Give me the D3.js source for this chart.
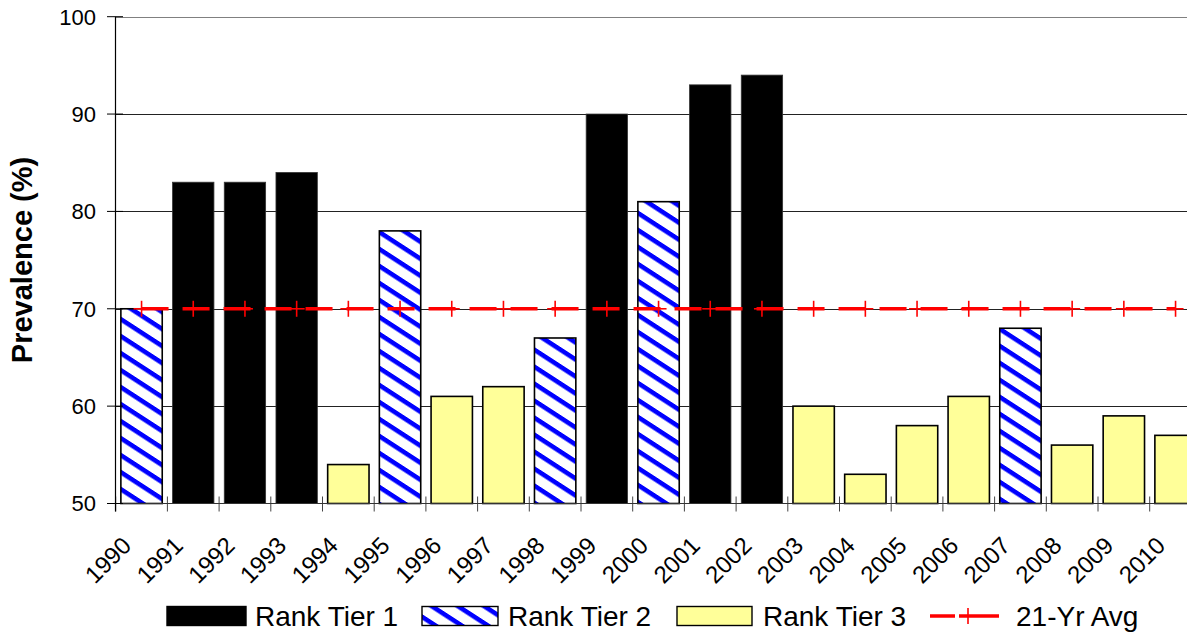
<!DOCTYPE html>
<html>
<head>
<meta charset="utf-8">
<script src="https://cdn.jsdelivr.net/npm/d3@7"></script>
<style>
  html, body { margin: 0; padding: 0; background: #fff; }
  svg { display: block; font-family: "Liberation Sans", Arial, sans-serif; }
</style>
</head>
<body>
<svg id="chart" width="1187" height="633"></svg>
<script>
// ---- data ----
const years = ["1990","1991","1992","1993","1994","1995","1996","1997","1998","1999","2000",
               "2001","2002","2003","2004","2005","2006","2007","2008","2009","2010"];
const prevalence = [70, 83, 83, 84, 54, 78, 61, 62, 67, 90, 81, 93, 94, 60, 53, 58, 61, 68, 56, 59, 57];
const rankTier = [2, 1, 1, 1, 3, 2, 3, 3, 2, 1, 2, 1, 1, 3, 3, 3, 3, 2, 3, 3, 3];
const avg21 = [70, 70, 70, 70, 70, 70, 70, 70, 70, 70, 70, 70, 70, 70, 70, 70, 70, 70, 70, 70, 70];
const yTicks = [50, 60, 70, 80, 90, 100];
const legendLabels = ["Rank Tier 1", "Rank Tier 2", "Rank Tier 3", "21-Yr Avg"];
const yTitle = "Prevalence (%)";

// ---- setup ----
const svg = d3.select("#chart");
const defs = svg.append("defs");
const pat = defs.append("pattern")
  .attr("id", "tier2")
  .attr("patternUnits", "userSpaceOnUse")
  .attr("width", 10).attr("height", 17)
  .attr("patternTransform", "skewY(33)");
pat.append("rect").attr("width", 10).attr("height", 17).attr("fill", "#fff");
pat.append("rect").attr("y", 0).attr("width", 10).attr("height", 5.5).attr("fill", "#0000ff");

const x = d3.scaleBand().domain(years).range([115.7, 1201.4]).paddingInner(0.2).paddingOuter(0.1);
const y = d3.scaleLinear().domain([50, 100]).range([503.5, 16.7]);
const step = x.step();
const boundary = d => x(d) - step * x.paddingOuter();
const center = d => x(d) + x.bandwidth() / 2;

const fills = {1: "#000000", 2: "url(#tier2)", 3: "#ffff99"};

// gridlines
svg.append("g").selectAll("line").data(yTicks.filter(t => t > 50)).join("line")
  .attr("x1", 115.5).attr("x2", 1187)
  .attr("y1", d => Math.round(y(d)) + 0.5).attr("y2", d => Math.round(y(d)) + 0.5)
  .attr("stroke", d => d === 100 ? "#808080" : "#222").attr("stroke-width", 1);

// x tick marks (cross)
svg.append("g").selectAll("line").data(years).join("line")
  .attr("x1", d => boundary(d)).attr("x2", d => boundary(d))
  .attr("y1", y(50) - 7).attr("y2", y(50) + 8)
  .attr("stroke", "#444").attr("stroke-width", 1);

// bars
svg.append("g").selectAll("rect").data(years).join("rect")
  .attr("x", d => x(d))
  .attr("width", x.bandwidth())
  .attr("y", (d, i) => y(prevalence[i]))
  .attr("height", (d, i) => y(50) - y(prevalence[i]))
  .attr("fill", (d, i) => fills[rankTier[i]])
  .attr("stroke", (d, i) => rankTier[i] === 1 ? "#333" : "#000")
  .attr("stroke-width", (d, i) => rankTier[i] === 1 ? 0.8 : 1.6);

// axes lines
svg.append("line").attr("x1", 107).attr("x2", 1187).attr("y1", y(50)).attr("y2", y(50))
  .attr("stroke", "#333").attr("stroke-width", 1.2);
svg.append("line").attr("x1", 115.5).attr("x2", 115.5).attr("y1", y(100)).attr("y2", y(50) + 8)
  .attr("stroke", "#000").attr("stroke-width", 1.2);

// y ticks & labels
const yg = svg.append("g");
yg.selectAll("line").data(yTicks).join("line")
  .attr("x1", 107).attr("x2", 123)
  .attr("y1", d => y(d)).attr("y2", d => y(d))
  .attr("stroke", "#000").attr("stroke-width", 1);
yg.selectAll("text").data(yTicks).join("text")
  .attr("x", 96).attr("y", d => y(d))
  .attr("dy", "0.36em")
  .attr("text-anchor", "end")
  .attr("font-size", 22)
  .attr("fill", "#000")
  .text(d => d);

// x labels
svg.append("g").selectAll("text").data(years).join("text")
  .attr("text-anchor", "end")
  .attr("font-size", 24)
  .attr("fill", "#000")
  .attr("transform", d => `translate(${boundary(d) + 17},${547}) rotate(-45)`)
  .text(d => d);

// average line
const line = d3.line().x((d, i) => center(years[i])).y(d => y(d));
svg.append("path").datum(avg21)
  .attr("d", line)
  .attr("fill", "none")
  .attr("stroke", "#ff0000")
  .attr("stroke-width", 3.4)
  .attr("stroke-dasharray", "27,14");
const mk = svg.append("g").selectAll("g").data(avg21).join("g")
  .attr("transform", (d, i) => `translate(${center(years[i])},${y(d)})`);
mk.append("line").attr("x1", -8).attr("x2", 8).attr("stroke", "#ff0000").attr("stroke-width", 1.6);
mk.append("line").attr("y1", -8).attr("y2", 8).attr("stroke", "#ff0000").attr("stroke-width", 1.6);

// y title
svg.append("text")
  .attr("transform", "translate(32,260) rotate(-90)")
  .attr("text-anchor", "middle")
  .attr("font-size", 29)
  .attr("font-weight", "bold")
  .attr("fill", "#000")
  .text(yTitle);

// legend
const leg = svg.append("g");
const ly = 616;
const swatches = [
  {x0: 167, x1: 246, tx: 255, fill: "#000", stroke: "#000"},
  {x0: 422, x1: 498, tx: 508, fill: "url(#tier2)", stroke: "#000"},
  {x0: 677, x1: 752, tx: 763, fill: "#ffff99", stroke: "#000"}
];
swatches.forEach((s, i) => {
  leg.append("rect").attr("x", s.x0).attr("y", ly - 9.5).attr("width", s.x1 - s.x0).attr("height", 19)
    .attr("fill", s.fill).attr("stroke", s.stroke).attr("stroke-width", 1.4);
  leg.append("text").attr("x", s.tx).attr("y", ly + 10).attr("font-size", 28).attr("fill", "#000")
    .text(legendLabels[i]);
});
leg.append("line").attr("x1", 930).attr("x2", 999).attr("y1", ly).attr("y2", ly)
  .attr("stroke", "#ff0000").attr("stroke-width", 3.4).attr("stroke-dasharray", "25,4,40");
leg.append("line").attr("x1", 960).attr("x2", 976).attr("y1", ly).attr("y2", ly)
  .attr("stroke", "#ff0000").attr("stroke-width", 1.6);
leg.append("line").attr("x1", 968).attr("x2", 968).attr("y1", ly - 8).attr("y2", ly + 8)
  .attr("stroke", "#ff0000").attr("stroke-width", 1.6);
leg.append("text").attr("x", 1016).attr("y", ly + 10).attr("font-size", 28).attr("fill", "#000")
  .text(legendLabels[3]);
</script>
</body>
</html>
